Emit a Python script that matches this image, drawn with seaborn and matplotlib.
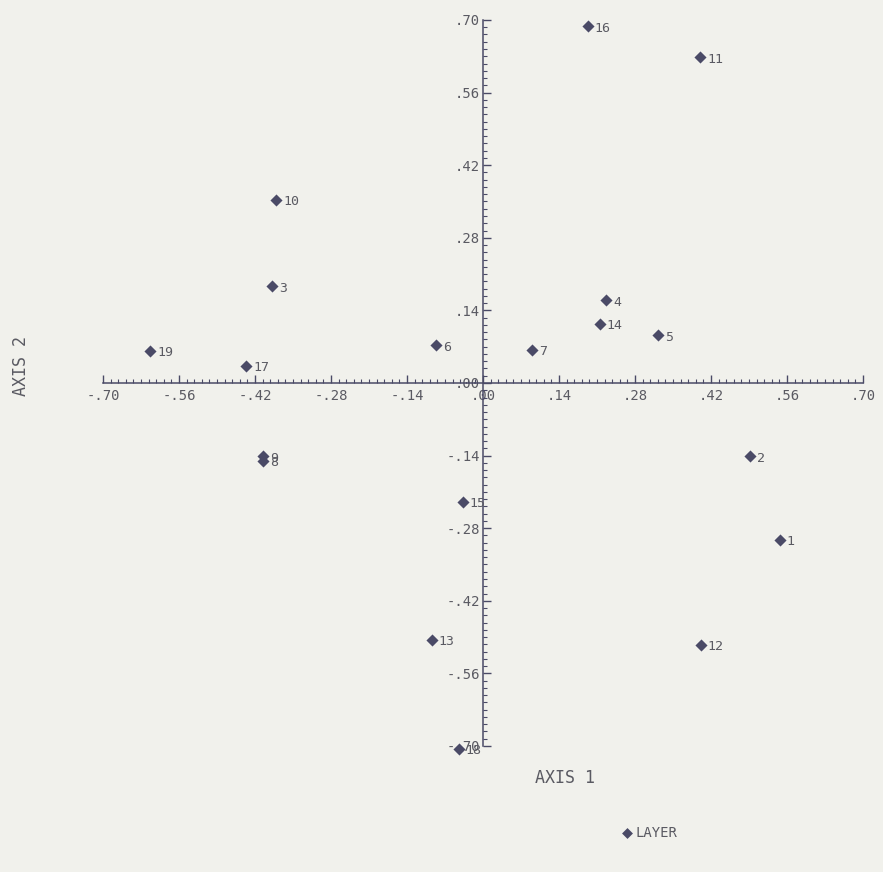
import numpy as np
import pandas as pd
import matplotlib
matplotlib.use("Agg")
import matplotlib.pyplot as plt
import seaborn as sns
from matplotlib.ticker import MultipleLocator, FuncFormatter

# point scores
labels = ["1", "2", "3", "4", "5", "6", "7", "8", "9", "10",
          "11", "12", "13", "14", "15", "16", "17", "18", "19"]
axis1 = [0.547, 0.492, -0.389, 0.227, 0.322, -0.087, 0.090, -0.405, -0.405, -0.381,
         0.400, 0.401, -0.094, 0.215, -0.037, 0.193, -0.436, -0.045, -0.613]
axis2 = [-0.302, -0.141, 0.187, 0.160, 0.092, 0.073, 0.064, -0.150, -0.141, 0.353,
         0.628, -0.505, -0.495, 0.114, -0.229, 0.688, 0.033, -0.705, 0.062]

df = pd.DataFrame({"label": labels, "AXIS 1": axis1, "AXIS 2": axis2})

paper = "#f1f1ec"
ink = "#4a4a66"
txt = "#5a5a62"

sns.set_style("white")
plt.rcParams["font.family"] = ["DejaVu Sans Mono", "DejaVu Sans"]

fig = plt.figure(figsize=(8.83, 8.72), dpi=100, facecolor=paper)
ax = fig.add_axes([0.1166, 0.1445, 0.8607, 0.8326])
ax.set_facecolor(paper)

sns.scatterplot(data=df, x="AXIS 1", y="AXIS 2", marker="D", s=38,
                color=ink, edgecolor=ink, linewidth=0, label="LAYER", ax=ax,
                clip_on=False, zorder=3)

for _, r in df.iterrows():
    ax.annotate(r["label"], (r["AXIS 1"], r["AXIS 2"]), xytext=(5, -4),
                textcoords="offset points", fontsize=9.5, color=txt,
                annotation_clip=False)

ax.set_xlim(-0.70, 0.70)
ax.set_ylim(-0.70, 0.70)

# crossed axes through the origin
ax.spines["left"].set_position(("data", 0))
ax.spines["bottom"].set_position(("data", 0))
ax.spines["right"].set_visible(False)
ax.spines["top"].set_visible(False)
for s in ["left", "bottom"]:
    ax.spines[s].set_color(ink)
    ax.spines[s].set_linewidth(1.1)

fmt = FuncFormatter(lambda v, p: ("-" if v < -1e-9 else "") + ("%.2f" % abs(v))[1:])
ax.xaxis.set_major_locator(MultipleLocator(0.14))
ax.yaxis.set_major_locator(MultipleLocator(0.14))
ax.xaxis.set_minor_locator(MultipleLocator(0.014))
ax.yaxis.set_minor_locator(MultipleLocator(0.014))
ax.xaxis.set_major_formatter(fmt)
ax.yaxis.set_major_formatter(fmt)
ax.tick_params(axis="x", which="both", bottom=True)
ax.tick_params(axis="y", which="both", left=True)
ax.tick_params(which="major", direction="in", length=6, width=1, color=ink,
               labelsize=10, labelcolor=txt, pad=4)
ax.tick_params(which="minor", direction="in", length=3, width=0.8, color=ink)
ax.tick_params(axis="y", which="major", pad=2)

ax.set_xlabel("")
ax.set_ylabel("")
fig.text(0.64, 0.108, "AXIS 1", fontsize=12, color=txt, ha="center", va="center")
fig.text(0.024, 0.58, "AXIS 2", fontsize=12, color=txt, ha="center", va="center",
         rotation=90)

ax.legend(loc="center", bbox_to_anchor=(0.735, 0.045), bbox_transform=fig.transFigure,
          frameon=False, handletextpad=0.1, handlelength=1.0, markerscale=0.9,
          prop={"size": 10}, labelcolor=txt)

fig.savefig("out.png", dpi=100, facecolor=paper)
